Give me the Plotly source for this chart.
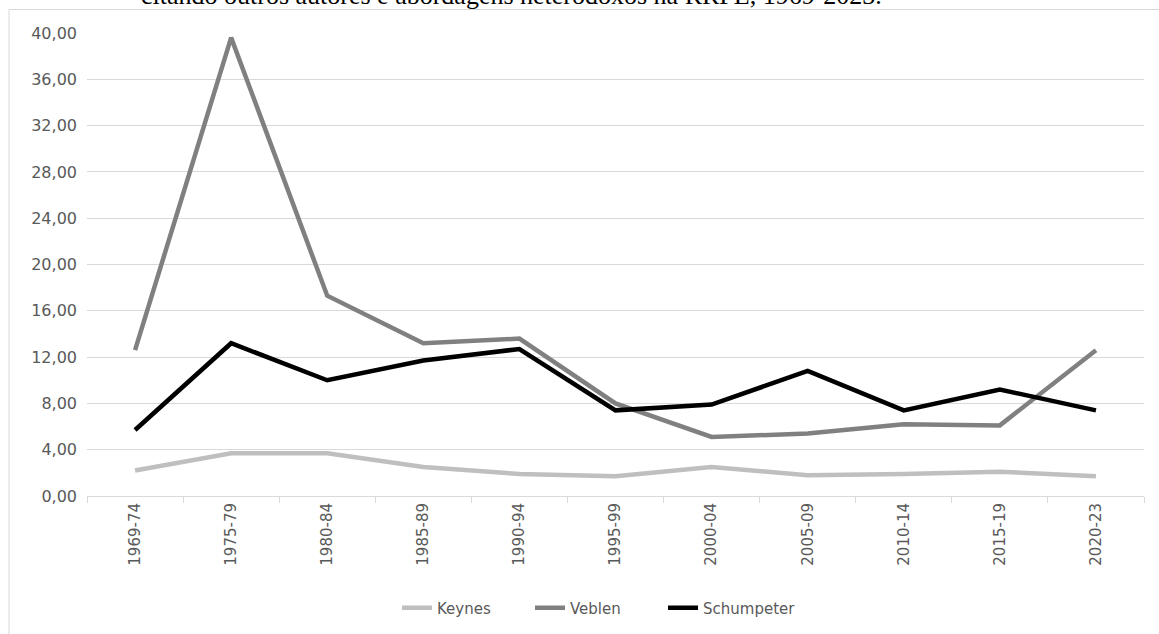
import plotly.graph_objects as go

periods = ["1969-74", "1975-79", "1980-84", "1985-89", "1990-94", "1995-99",
           "2000-04", "2005-09", "2010-14", "2015-19", "2020-23"]
keynes = [2.2, 3.7, 3.7, 2.5, 1.9, 1.7, 2.5, 1.8, 1.9, 2.1, 1.7]
veblen = [12.6, 39.6, 17.3, 13.2, 13.6, 8.0, 5.1, 5.4, 6.2, 6.1, 12.6]
schumpeter = [5.7, 13.2, 10.0, 11.7, 12.7, 7.4, 7.9, 10.8, 7.4, 9.2, 7.4]
title_text = "citando outros autores e abordagens heterodoxos na RRPE, 1969-2023."

series = [("Keynes", keynes, "#bfbfbf"),
          ("Veblen", veblen, "#808080"),
          ("Schumpeter", schumpeter, "#000000")]

fig = go.Figure()
for name, vals, color in series:
    fig.add_trace(go.Scatter(x=periods, y=vals, name=name, mode="lines",
                             line=dict(color=color, width=4.5)))

fig.update_layout(
    width=1159, height=634,
    margin=dict(l=87, r=15, t=33, b=138, autoexpand=False),
    paper_bgcolor="white", plot_bgcolor="white",
    separators=",.",
    showlegend=True,
    legend=dict(orientation="h", x=(397 - 87) / 1057, xanchor="left",
                yref="container", y=1 - 608/634, yanchor="middle",
                font=dict(family="DejaVu Sans", size=15, color="#595959"),
                entrywidth=88, itemwidth=30, traceorder="normal"),
    font=dict(family="DejaVu Sans", color="#595959"),
)
fig.update_xaxes(type="category", range=[-0.5, 10.5], showgrid=False,
                 showline=True, linecolor="#d9d9d9", linewidth=1,
                 ticks="outside", tickson="boundaries", ticklen=6, tickcolor="#d9d9d9",
                 tickangle=-90, tickfont=dict(family="DejaVu Sans", size=15, color="#595959"))
fig.update_yaxes(range=[0, 40], dtick=4, tickformat=".2f", showgrid=True,
                 gridcolor="#d9d9d9", gridwidth=1, zeroline=False, showline=False,
                 ticks="", ticklabelstandoff=9,
                 tickfont=dict(family="DejaVu Sans", size=16, color="#595959"))

fig.add_shape(type="rect", xref="paper", yref="paper",
              x0=-78/1057, x1=1.05, y0=-0.5, y1=1 + 23.5/463,
              line=dict(color="#d9d9d9", width=1), fillcolor="rgba(0,0,0,0)", layer="below")

fig.add_annotation(text=title_text, xref="paper", yref="paper",
                   x=(511 - 87) / 1057, y=1 + 21/463, xanchor="center", yanchor="bottom",
                   showarrow=False,
                   font=dict(family="Liberation Serif", size=26, color="#000000"))

fig.write_html("out.html")
